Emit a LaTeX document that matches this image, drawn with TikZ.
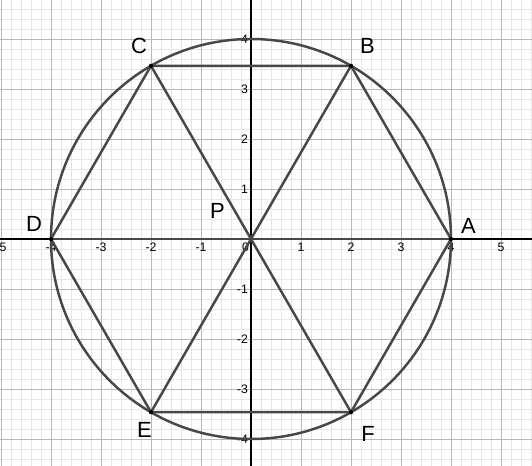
\documentclass[tikz,border=0pt]{standalone}
\usepackage{fontspec}
\setmainfont{Liberation Sans}
\definecolor{gridmin}{HTML}{E6E6E6}
\definecolor{gridmaj}{HTML}{B8B8B8}
\definecolor{figline}{HTML}{474747}
\tikzset{
  ticklab/.style={font=\fontsize{7}{8}\selectfont, inner sep=1pt},
  ptlab/.style={font=\fontsize{12.5}{14}\selectfont},
  fig/.style={figline, line width=1.4pt, line join=round},
  vdot/.style={circle, fill=black, inner sep=0pt, minimum size=2.4pt}
}
\begin{document}
\begin{tikzpicture}
	\useasboundingbox (-5.02,-4.54) rectangle (5.62,4.78);
	% --- Grille ---
	\fill[white] (-5.02,-4.54) rectangle (5.62,4.78);
	\draw[gridmin, line width=0.4pt] (-5.02,-4.54) grid[step=0.2] (5.62,4.78);
	\draw[gridmaj, line width=0.5pt] (-5.02,-4.54) grid[step=1] (5.62,4.78);

	% --- Axes ---
	\draw[black, line width=0.6pt] (-5.02,0) -- (5.62,0);
	\draw[black, line width=0.6pt] (0,-4.54) -- (0,4.78);
	\foreach \x in {-5,-4,-3,-2,-1,1,2,3,4,5}
		\node[ticklab, anchor=north] at (\x,-0.03) {\x};
	\foreach \y in {-4,-3,-2,-1,1,2,3,4}
		\node[ticklab, anchor=east] at (-0.02,\y) {\y};
	\node[ticklab, anchor=north east] at (0,-0.03) {0};

	% --- Points ---
	\coordinate (P) at (0,0);
	\foreach \n/\a in {A/0,B/60,C/120,D/180,E/240,F/300}
		\coordinate (\n) at (\a:4);

	% --- Cercle et hexagone ---
	\draw[fig] (P) circle (4);
	\draw[fig] (A) -- (B) -- (C) -- (D) -- (E) -- (F) -- cycle;
	\draw[fig] (A) -- (D);
	\draw[fig] (B) -- (E);
	\draw[fig] (C) -- (F);
	\foreach \n in {A,B,C,D,E,F}
		\node[vdot] at (\n) {};

	% --- Etiquettes ---
	\node[ptlab] (labA) at (4.35,0.27) {A};
	\node[ptlab] (labB) at (2.33,3.87) {B};
	\node[ptlab] (labC) at (-2.24,3.87) {C};
	\node[ptlab] (labD) at (-4.34,0.3) {D};
	\node[ptlab] (labE) at (-2.13,-3.82) {E};
	\node[ptlab] (labF) at (2.34,-3.9) {F};
	\node[ptlab] (labP) at (-0.67,0.57) {P};
\end{tikzpicture}
\end{document}
